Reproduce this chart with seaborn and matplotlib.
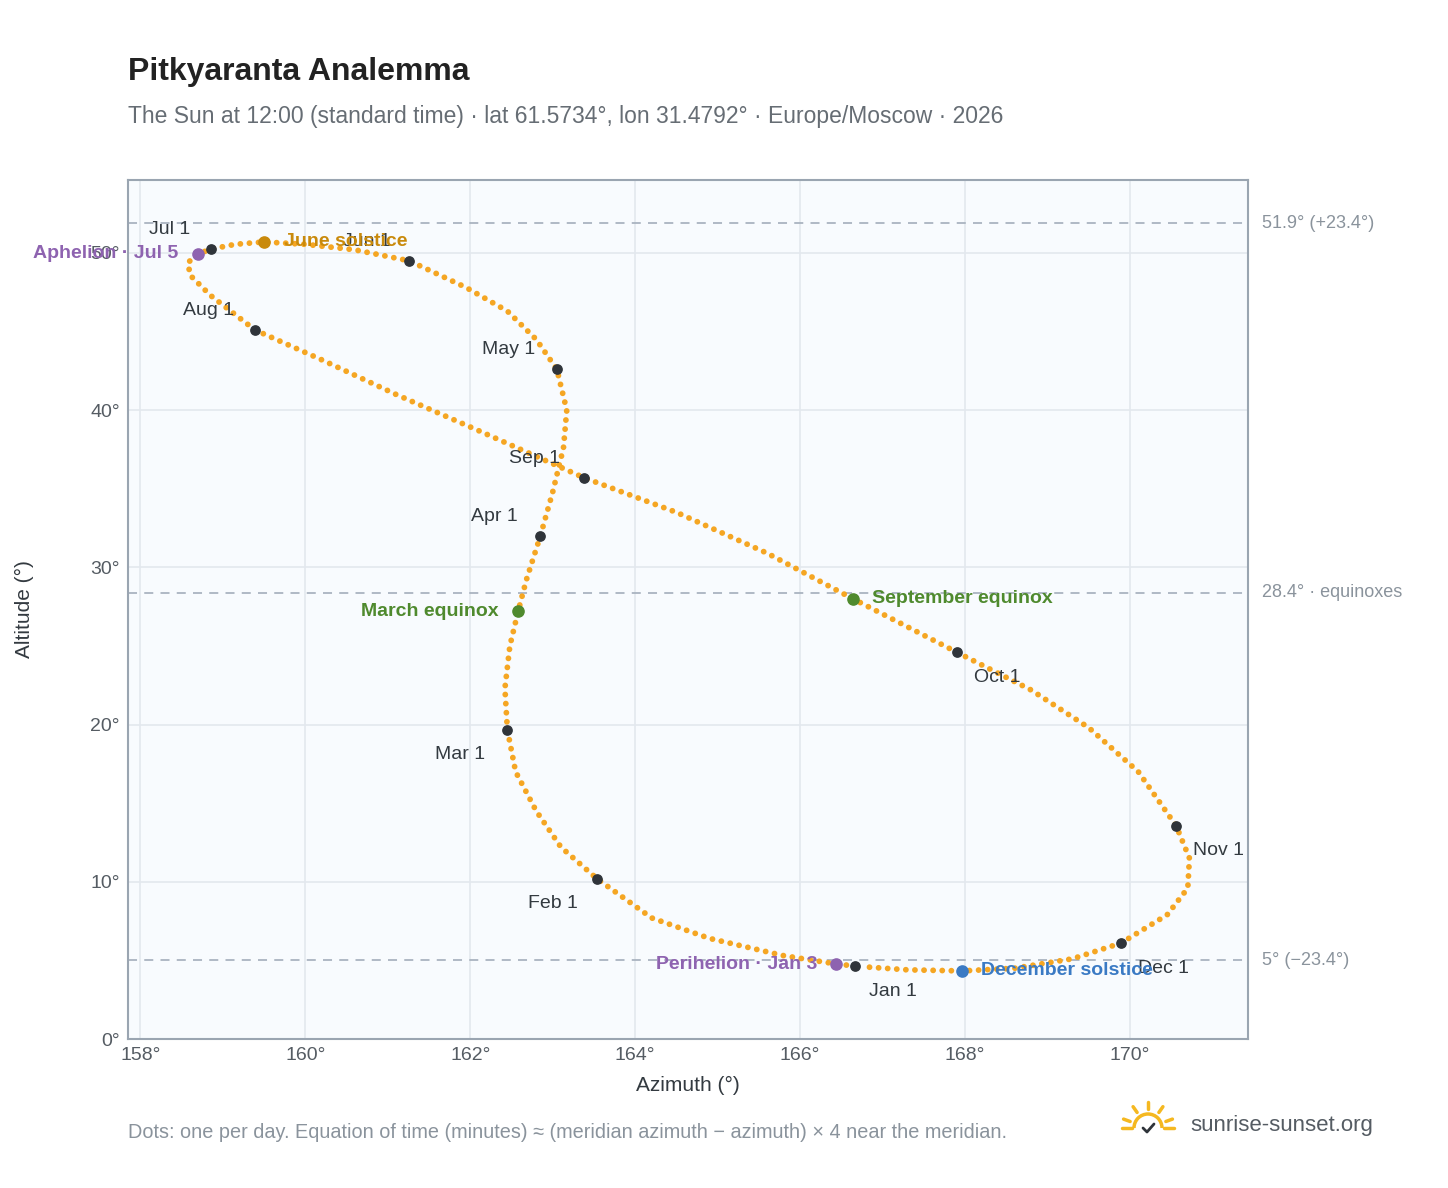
import numpy as np
import pandas as pd
import seaborn as sns
import matplotlib.pyplot as plt
from matplotlib.patches import Arc

# Sun position at noon (roughly weekly)
dates = ["Jan 1", "Jan 3", "Jan 8", "Jan 15", "Jan 22", "Feb 1", "Feb 8", "Feb 15", "Feb 22",
         "Mar 1", "Mar 8", "Mar 15", "Mar 20", "Mar 25", "Apr 1", "Apr 8", "Apr 15", "Apr 22",
         "May 1", "May 8", "May 15", "May 22", "Jun 1", "Jun 8", "Jun 15", "Jun 21", "Jun 26",
         "Jul 1", "Jul 5", "Jul 10", "Jul 15", "Jul 22", "Aug 1", "Aug 8", "Aug 15", "Aug 22",
         "Sep 1", "Sep 8", "Sep 15", "Sep 23", "Oct 1", "Oct 8", "Oct 15", "Oct 22",
         "Nov 1", "Nov 8", "Nov 15", "Nov 22", "Dec 1", "Dec 8", "Dec 15", "Dec 21", "Dec 27", "Dec 31"]
azimuth = [166.67, 166.44, 165.8, 164.9, 164.2, 163.54, 163.1, 162.8, 162.55,
           162.45, 162.42, 162.48, 162.58, 162.68, 162.85, 163.0, 163.13, 163.17,
           163.05, 162.8, 162.45, 161.95, 161.26, 160.6, 160.0, 159.5, 159.15,
           158.86, 158.70, 158.58, 158.6, 158.85, 159.39, 160.2, 161.1, 162.1,
           163.38, 164.5, 165.6, 166.64, 167.90, 168.8, 169.5, 170.1,
           170.56, 170.72, 170.7, 170.45, 169.89, 169.3, 168.6, 167.96, 167.3, 166.75]
altitude = [4.64, 4.77, 5.3, 6.4, 7.7, 10.18, 12.2, 14.5, 17.0,
            19.66, 22.3, 25.0, 27.2, 29.2, 32.0, 34.8, 37.6, 40.0,
            42.6, 44.5, 46.3, 47.8, 49.5, 50.2, 50.55, 50.7, 50.55,
            50.25, 49.94, 49.4, 48.6, 47.3, 45.1, 43.2, 41.0, 38.7,
            35.7, 33.5, 30.9, 28.0, 24.6, 22.2, 19.8, 17.0,
            13.55, 11.5, 9.6, 7.9, 6.1, 5.1, 4.5, 4.33, 4.4, 4.6]

month_labels = ["Jan 1", "Feb 1", "Mar 1", "Apr 1", "May 1", "Jun 1",
                "Jul 1", "Aug 1", "Sep 1", "Oct 1", "Nov 1", "Dec 1"]
month_offsets = [(10, -18), (-50, -18), (-52, -18), (-50, 14), (-54, 14), (-48, 14),
                 (-45, 14), (-52, 14), (-54, 14), (12, -18), (12, -18), (12, -18)]

events = ["June solstice", "Aphelion · Jul 5", "March equinox", "September equinox",
          "December solstice", "Perihelion · Jan 3"]
event_dates = ["Jun 21", "Jul 5", "Mar 20", "Sep 23", "Dec 21", "Jan 3"]
event_colors = ["#c98a0c", "#8e63b0", "#4f8a2e", "#4f8a2e", "#3a7ac4", "#8e63b0"]

ref_lines = [51.9, 28.4, 5.0]
ref_labels = ["51.9° (+23.4°)", "28.4° · equinoxes", "5° (−23.4°)"]

df = pd.DataFrame({"date": dates, "az": azimuth, "alt": altitude})
pos = df.set_index("date")

sns.set_style("whitegrid")
plt.rcParams["font.family"] = ["Liberation Sans", "DejaVu Sans"]

fig = plt.figure(figsize=(14.48, 11.88), dpi=100)
ax = fig.add_axes([128 / 1448, 1 - 1039 / 1188, 1120 / 1448, 859 / 1188])
ax.set_facecolor("#f8fbfe")
for s in ax.spines.values():
    s.set_color("#9aa5b1")
    s.set_linewidth(1.5)
ax.grid(color="#e3e8ee", linewidth=1.2)

# dotted path through the read positions, looks like the daily dots
ax.plot(df["az"], df["alt"], color="#f5a623", linewidth=4.2,
        linestyle=(0, (0.01, 1.55)), dash_capstyle="round", zorder=3)

for y, lab in zip(ref_lines, ref_labels):
    ax.axhline(y, color="#aab4c0", linestyle=(0, (5, 4)), linewidth=1.3, zorder=2)
    ax.annotate(lab, (1.0, y), xycoords=("axes fraction", "data"), xytext=(10, 0),
                textcoords="offset points", va="center", fontsize=13, color="#8a939c",
                annotation_clip=False)

for lab, off in zip(month_labels, month_offsets):
    x, y = pos.loc[lab, "az"], pos.loc[lab, "alt"]
    ax.scatter(x, y, s=45, color="#2f343a", zorder=4)
    ax.annotate(lab, (x, y), xytext=off, textcoords="offset points", fontsize=14,
                color="#333a40", va="center")

event_offsets = [(14, 0), (-14, 0), (-14, 0), (14, 0), (14, 0), (-14, 0)]
for ev, d, c, off in zip(events, event_dates, event_colors, event_offsets):
    x, y = pos.loc[d, "az"], pos.loc[d, "alt"]
    ax.scatter(x, y, s=65, color=c, zorder=5)
    ax.annotate(ev, (x, y), xytext=off, textcoords="offset points", fontsize=14,
                fontweight="bold", color=c, va="center",
                ha="left" if off[0] > 0 else "right", annotation_clip=False)

ax.set_xlim(157.85, 171.43)
ax.set_ylim(0, 54.64)
ax.set_xticks(range(158, 171, 2))
ax.set_xticklabels([f"{v}°" for v in range(158, 171, 2)])
ax.set_yticks(range(0, 51, 10))
ax.set_yticklabels([f"{v}°" for v in range(0, 51, 10)])
ax.tick_params(labelsize=14, colors="#555c63", length=0, pad=6)
ax.set_xlabel("Azimuth (°)", fontsize=15, color="#333a40", labelpad=8)
ax.set_ylabel("Altitude (°)", fontsize=15, color="#333a40", labelpad=40)

fig.text(128 / 1448, 1 - 72 / 1188, "Pitkyaranta Analemma", fontsize=23, fontweight="bold",
         color="#222222", va="center")
fig.text(128 / 1448, 1 - 116 / 1188,
         "The Sun at 12:00 (standard time) · lat 61.5734°, lon 31.4792° · Europe/Moscow · 2026",
         fontsize=16.5, color="#666d74", va="center")
fig.text(128 / 1448, 1 - 1133 / 1188,
         "Dots: one per day. Equation of time (minutes) ≈ (meridian azimuth − azimuth) × 4 near the meridian.",
         fontsize=14.3, color="#8a939c", va="center")
fig.text(1190 / 1448, 1 - 1125 / 1188, "sunrise-sunset.org", fontsize=16, color="#555c63", va="center")

# small sun logo
lax = fig.add_axes([1118 / 1448, 1 - 1140 / 1188, 60 / 1448, 40 / 1188])
lax.set_xlim(-1.5, 1.5)
lax.set_ylim(-0.6, 1.4)
lax.set_aspect("equal")
lax.axis("off")
lax.add_patch(Arc((0, 0), 1.4, 1.4, theta1=0, theta2=180, color="#f5b820", lw=2.5))
for a in np.radians([20, 55, 90, 125, 160]):
    lax.plot([0.95 * np.cos(a), 1.3 * np.cos(a)], [0.95 * np.sin(a), 1.3 * np.sin(a)],
             color="#f5b820", lw=2.5)
lax.plot([-1.3, -0.8], [0, 0], color="#f5b820", lw=2.5)
lax.plot([0.8, 1.3], [0, 0], color="#f5b820", lw=2.5)
lax.plot([-0.25, -0.05, 0.3], [0.0, -0.2, 0.2], color="#2f343a", lw=2)

fig.savefig("out.png", dpi=100)
